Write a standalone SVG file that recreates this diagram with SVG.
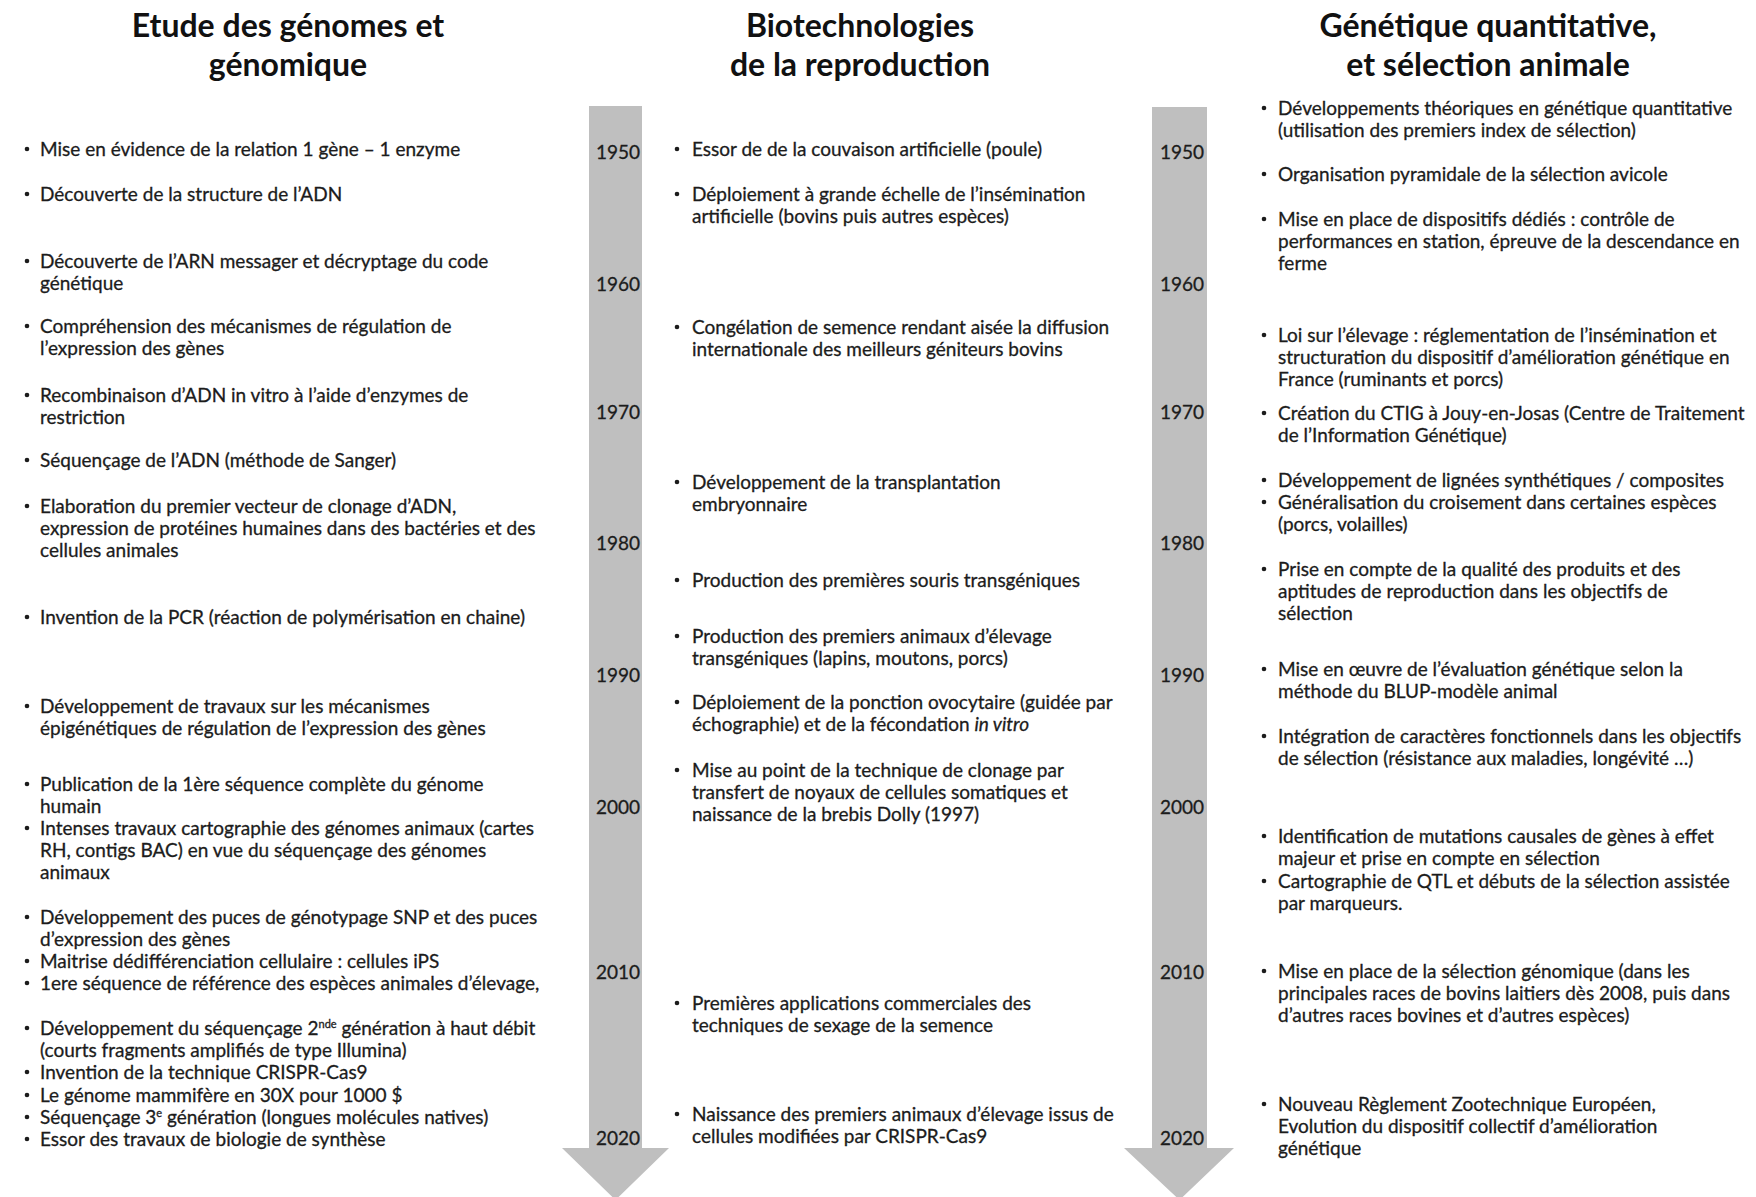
<svg xmlns="http://www.w3.org/2000/svg" width="1756" height="1197" viewBox="0 0 1756 1197">
<style>
.bg{fill:#ffffff}
.arrow{fill:#bfbfbf}
.title{font-family:Lato,"Liberation Sans",sans-serif;font-weight:bold;font-size:32px;fill:#111;text-anchor:middle}
.t{font-family:Lato,"Liberation Sans",sans-serif;font-size:19px;fill:#1c1c1c;stroke:#1c1c1c;stroke-width:0.3}
.yr{font-family:Lato,"Liberation Sans",sans-serif;font-size:19px;fill:#1c1c1c;stroke:#1c1c1c;stroke-width:0.3;text-anchor:middle}
.b{fill:#1c1c1c}
.sup{font-size:11px}
</style>
<rect class="bg" x="0" y="0" width="1756" height="1197"/>
<g id="connectors">
<polygon id="timeline-left" class="arrow" points="589,106 642,106 642,1148 669,1148 615.5,1200 562,1148 589,1148"/>
<polygon id="timeline-right" class="arrow" points="1152,107 1207,107 1207,1148 1234,1148 1179.5,1200 1124,1148 1152,1148"/>
</g>
<g id="years-left">
<text class="yr" x="618" y="159">1950</text>
<text class="yr" x="618" y="291">1960</text>
<text class="yr" x="618" y="419">1970</text>
<text class="yr" x="618" y="550">1980</text>
<text class="yr" x="618" y="682">1990</text>
<text class="yr" x="618" y="814">2000</text>
<text class="yr" x="618" y="979">2010</text>
<text class="yr" x="618" y="1145">2020</text>
</g>
<g id="years-right">
<text class="yr" x="1182" y="159">1950</text>
<text class="yr" x="1182" y="291">1960</text>
<text class="yr" x="1182" y="419">1970</text>
<text class="yr" x="1182" y="550">1980</text>
<text class="yr" x="1182" y="682">1990</text>
<text class="yr" x="1182" y="814">2000</text>
<text class="yr" x="1182" y="979">2010</text>
<text class="yr" x="1182" y="1145">2020</text>
</g>
<g id="titles">
<text class="title" x="288" y="37">Etude des génomes et<tspan x="288" dy="39">génomique</tspan></text>
<text class="title" x="860" y="37">Biotechnologies<tspan x="860" dy="39">de la reproduction</tspan></text>
<text class="title" x="1488" y="37">Génétique quantitative,<tspan x="1488" dy="39">et sélection animale</tspan></text>
</g>
<g id="col-genomes">
<g id="g1"><circle class="b" cx="27" cy="149" r="2.3"/><text class="t" x="40" y="156">Mise en évidence de la relation 1 gène – 1 enzyme</text></g>
<g id="g2"><circle class="b" cx="27" cy="194" r="2.3"/><text class="t" x="40" y="201">Découverte de la structure de l’ADN</text></g>
<g id="g3"><circle class="b" cx="27" cy="261" r="2.3"/><text class="t" x="40" y="268">Découverte de l’ARN messager et décryptage du code<tspan x="40" dy="22">génétique</tspan></text></g>
<g id="g4"><circle class="b" cx="27" cy="326" r="2.3"/><text class="t" x="40" y="333">Compréhension des mécanismes de régulation de<tspan x="40" dy="22">l’expression des gènes</tspan></text></g>
<g id="g5"><circle class="b" cx="27" cy="395" r="2.3"/><text class="t" x="40" y="402">Recombinaison d’ADN in vitro à l’aide d’enzymes de<tspan x="40" dy="22">restriction</tspan></text></g>
<g id="g6"><circle class="b" cx="27" cy="460" r="2.3"/><text class="t" x="40" y="467">Séquençage de l’ADN (méthode de Sanger)</text></g>
<g id="g7"><circle class="b" cx="27" cy="506" r="2.3"/><text class="t" x="40" y="513">Elaboration du premier vecteur de clonage d’ADN,<tspan x="40" dy="22">expression de protéines humaines dans des bactéries et des</tspan><tspan x="40" dy="22">cellules animales</tspan></text></g>
<g id="g8"><circle class="b" cx="27" cy="617" r="2.3"/><text class="t" x="40" y="624">Invention de la PCR (réaction de polymérisation en chaine)</text></g>
<g id="g9"><circle class="b" cx="27" cy="706" r="2.3"/><text class="t" x="40" y="713">Développement de travaux sur les mécanismes<tspan x="40" dy="22">épigénétiques de régulation de l’expression des gènes</tspan></text></g>
<g id="g10"><circle class="b" cx="27" cy="784" r="2.3"/><text class="t" x="40" y="791">Publication de la 1ère séquence complète du génome<tspan x="40" dy="22">humain</tspan></text></g>
<g id="g11"><circle class="b" cx="27" cy="828" r="2.3"/><text class="t" x="40" y="835">Intenses travaux cartographie des génomes animaux (cartes<tspan x="40" dy="22">RH, contigs BAC) en vue du séquençage des génomes</tspan><tspan x="40" dy="22">animaux</tspan></text></g>
<g id="g12"><circle class="b" cx="27" cy="917" r="2.3"/><text class="t" x="40" y="924">Développement des puces de génotypage SNP et des puces<tspan x="40" dy="22">d’expression des gènes</tspan></text></g>
<g id="g13"><circle class="b" cx="27" cy="961" r="2.3"/><text class="t" x="40" y="968">Maitrise dédifférenciation cellulaire :  cellules iPS</text></g>
<g id="g14"><circle class="b" cx="27" cy="983" r="2.3"/><text class="t" x="40" y="990">1ere séquence de référence des espèces animales d’élevage,</text></g>
<g id="g15"><circle class="b" cx="27" cy="1028" r="2.3"/><text class="t" x="40" y="1035">Développement du séquençage 2<tspan class="sup" dy="-7">nde</tspan><tspan dy="7"> génération à haut débit</tspan><tspan x="40" dy="22">(courts fragments amplifiés de type Illumina)</tspan></text></g>
<g id="g16"><circle class="b" cx="27" cy="1072" r="2.3"/><text class="t" x="40" y="1079">Invention de la technique CRISPR-Cas9</text></g>
<g id="g17"><circle class="b" cx="27" cy="1095" r="2.3"/><text class="t" x="40" y="1102">Le génome mammifère en 30X pour 1000 $</text></g>
<g id="g18"><circle class="b" cx="27" cy="1117" r="2.3"/><text class="t" x="40" y="1124">Séquençage 3<tspan class="sup" dy="-7">e</tspan><tspan dy="7"> génération (longues molécules natives)</tspan></text></g>
<g id="g19"><circle class="b" cx="27" cy="1139" r="2.3"/><text class="t" x="40" y="1146">Essor des travaux de biologie de synthèse</text></g>
</g>
<g id="col-repro">
<g id="r1"><circle class="b" cx="677" cy="149" r="2.3"/><text class="t" x="692" y="156">Essor de de la couvaison artificielle (poule)</text></g>
<g id="r2"><circle class="b" cx="677" cy="194" r="2.3"/><text class="t" x="692" y="201">Déploiement à grande échelle de l’insémination<tspan x="692" dy="22">artificielle (bovins puis autres espèces)</tspan></text></g>
<g id="r3"><circle class="b" cx="677" cy="327" r="2.3"/><text class="t" x="692" y="334">Congélation de semence rendant aisée la diffusion<tspan x="692" dy="22">internationale des meilleurs géniteurs bovins</tspan></text></g>
<g id="r4"><circle class="b" cx="677" cy="482" r="2.3"/><text class="t" x="692" y="489">Développement de la transplantation<tspan x="692" dy="22">embryonnaire</tspan></text></g>
<g id="r5"><circle class="b" cx="677" cy="580" r="2.3"/><text class="t" x="692" y="587">Production des premières souris transgéniques</text></g>
<g id="r6"><circle class="b" cx="677" cy="636" r="2.3"/><text class="t" x="692" y="643">Production des premiers animaux d’élevage<tspan x="692" dy="22">transgéniques (lapins, moutons, porcs)</tspan></text></g>
<g id="r7"><circle class="b" cx="677" cy="702" r="2.3"/><text class="t" x="692" y="709">Déploiement de la ponction ovocytaire (guidée par<tspan x="692" dy="22">échographie) et de la fécondation </tspan><tspan font-style="italic">in vitro</tspan></text></g>
<g id="r8"><circle class="b" cx="677" cy="770" r="2.3"/><text class="t" x="692" y="777">Mise au point de la technique de clonage par<tspan x="692" dy="22">transfert de noyaux de cellules somatiques et</tspan><tspan x="692" dy="22">naissance de la brebis Dolly (1997)</tspan></text></g>
<g id="r9"><circle class="b" cx="677" cy="1003" r="2.3"/><text class="t" x="692" y="1010">Premières applications commerciales des<tspan x="692" dy="22">techniques de sexage de la semence</tspan></text></g>
<g id="r10"><circle class="b" cx="677" cy="1114" r="2.3"/><text class="t" x="692" y="1121">Naissance des premiers animaux d’élevage issus de<tspan x="692" dy="22">cellules modifiées par CRISPR-Cas9</tspan></text></g>
</g>
<g id="col-selection">
<g id="s1"><circle class="b" cx="1264" cy="108" r="2.3"/><text class="t" x="1278" y="115">Développements théoriques en génétique quantitative<tspan x="1278" dy="22">(utilisation des premiers index de sélection)</tspan></text></g>
<g id="s2"><circle class="b" cx="1264" cy="174" r="2.3"/><text class="t" x="1278" y="181">Organisation pyramidale de la sélection avicole</text></g>
<g id="s3"><circle class="b" cx="1264" cy="219" r="2.3"/><text class="t" x="1278" y="226">Mise en place de dispositifs dédiés : contrôle de<tspan x="1278" dy="22">performances en station, épreuve de la descendance en</tspan><tspan x="1278" dy="22">ferme</tspan></text></g>
<g id="s4"><circle class="b" cx="1264" cy="335" r="2.3"/><text class="t" x="1278" y="342">Loi sur l’élevage : réglementation de l’insémination et<tspan x="1278" dy="22">structuration du dispositif d’amélioration génétique en</tspan><tspan x="1278" dy="22">France (ruminants et porcs)</tspan></text></g>
<g id="s5"><circle class="b" cx="1264" cy="413" r="2.3"/><text class="t" x="1278" y="420">Création du CTIG à Jouy-en-Josas (Centre de Traitement<tspan x="1278" dy="22">de l’Information Génétique)</tspan></text></g>
<g id="s6"><circle class="b" cx="1264" cy="480" r="2.3"/><text class="t" x="1278" y="487">Développement de lignées synthétiques / composites</text></g>
<g id="s7"><circle class="b" cx="1264" cy="502" r="2.3"/><text class="t" x="1278" y="509">Généralisation du croisement dans certaines espèces<tspan x="1278" dy="22">(porcs, volailles)</tspan></text></g>
<g id="s8"><circle class="b" cx="1264" cy="569" r="2.3"/><text class="t" x="1278" y="576">Prise en compte de la qualité des produits et des<tspan x="1278" dy="22">aptitudes de reproduction dans les objectifs de</tspan><tspan x="1278" dy="22">sélection</tspan></text></g>
<g id="s9"><circle class="b" cx="1264" cy="669" r="2.3"/><text class="t" x="1278" y="676">Mise en œuvre de l’évaluation génétique selon la<tspan x="1278" dy="22">méthode du BLUP-modèle animal</tspan></text></g>
<g id="s10"><circle class="b" cx="1264" cy="736" r="2.3"/><text class="t" x="1278" y="743">Intégration de caractères fonctionnels dans les objectifs<tspan x="1278" dy="22">de sélection (résistance aux maladies, longévité …)</tspan></text></g>
<g id="s11"><circle class="b" cx="1264" cy="836" r="2.3"/><text class="t" x="1278" y="843">Identification de mutations causales de gènes à effet<tspan x="1278" dy="22">majeur et prise en compte en sélection</tspan></text></g>
<g id="s12"><circle class="b" cx="1264" cy="881" r="2.3"/><text class="t" x="1278" y="888">Cartographie de QTL et débuts de la sélection assistée<tspan x="1278" dy="22">par marqueurs.</tspan></text></g>
<g id="s13"><circle class="b" cx="1264" cy="971" r="2.3"/><text class="t" x="1278" y="978">Mise en place de la sélection génomique (dans les<tspan x="1278" dy="22">principales races de bovins laitiers dès 2008, puis dans</tspan><tspan x="1278" dy="22">d’autres races bovines et d’autres espèces)</tspan></text></g>
<g id="s14"><circle class="b" cx="1264" cy="1104" r="2.3"/><text class="t" x="1278" y="1111">Nouveau Règlement Zootechnique Européen,<tspan x="1278" dy="22">Evolution du dispositif collectif d’amélioration</tspan><tspan x="1278" dy="22">génétique</tspan></text></g>
</g>
</svg>
